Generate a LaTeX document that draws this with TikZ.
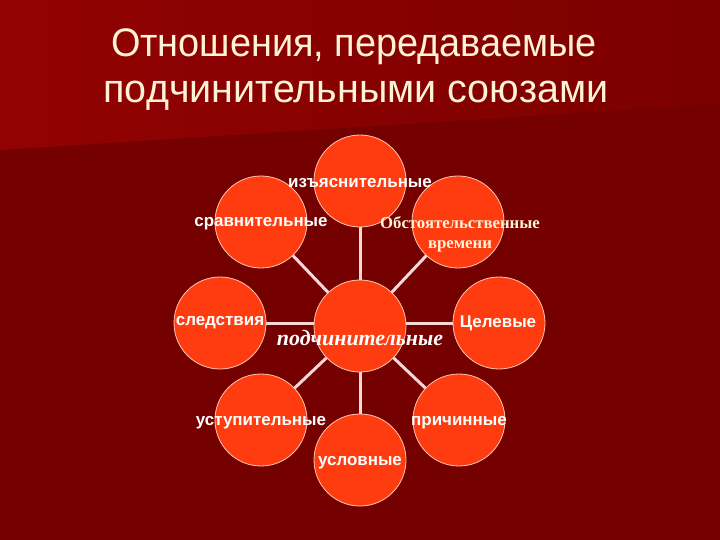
\documentclass[tikz,border=0pt]{standalone}
\usepackage{fontspec}
\setmainfont{Liberation Serif}
\newfontfamily\arialf{Liberation Sans}
\newfontfamily\titlef[FakeStretch=0.95]{Liberation Sans}
\newfontfamily\titlefb[FakeStretch=0.99]{Liberation Sans}
\definecolor{bgbase}{RGB}{116,0,0}
\definecolor{bandl}{RGB}{146,2,2}
\definecolor{bandr}{RGB}{124,0,0}
\definecolor{cream}{RGB}{255,242,214}
\definecolor{disc}{RGB}{255,60,15}
\definecolor{rim}{RGB}{255,200,180}
\definecolor{link}{RGB}{245,215,215}
\tikzset{
  disc/.style={circle,fill=disc,draw=rim,line width=0.8bp,minimum size=92bp,inner sep=0pt},
  link/.style={draw=link,line width=3bp},
  sanslab/.style={text=white,font=\arialf\bfseries\fontsize{17}{19}\selectfont,inner sep=0pt},
  seriflab/.style={text=cream,font=\bfseries\fontsize{16.8}{20}\selectfont,inner sep=0pt,align=center},
  titletext/.style={text=cream,inner sep=0pt}
}
\begin{document}
\begin{tikzpicture}[x=1bp,y=-1bp]
\useasboundingbox (0,0) rectangle (720,540);
\fill[bgbase] (0,0) rectangle (720,540);
\shade[left color=bandl,right color=bandr] (0,0) -- (720,0) -- (720,104) -- (0,150) -- cycle;
\node[titletext,font=\titlef\fontsize{40}{46}\selectfont,anchor=base] (t1) at (354,57) {Отношения, передаваемые};
\node[titletext,font=\titlefb\fontsize{40}{46}\selectfont,anchor=base] (t2) at (356,103) {подчинительными союзами};
\node[disc] (top) at (360,181) {};
\node[disc] (ul) at (261,222) {};
\node[disc] (ur) at (458,222) {};
\node[disc] (l) at (220,323) {};
\node[disc] (c) at (360,326) {};
\node[disc] (r) at (499,323) {};
\node[disc] (dl) at (261,420) {};
\node[disc] (dr) at (459,420) {};
\node[disc] (b) at (360,460) {};
\draw[link] (c) -- (top);
\draw[link] (c) -- (ul);
\draw[link] (c) -- (ur);
\draw[link] (l.east) -- (l.east -| c.west);
\draw[link] (r.west) -- (r.west -| c.east);
\draw[link] (c) -- (dl);
\draw[link] (c) -- (dr);
\draw[link] (c) -- (b);
\node[sanslab] (ltop) at (360,183) {изъяснительные};
\node[sanslab] (lul) at (261,224) {сравнительные};
\node[seriflab] (lur) at (460,234) {Обстоятельственные\\времени};
\node[sanslab] (ll) at (220,323) {следствия};
\node[sanslab] (lr) at (498,323) {Целевые};
\node[text=white,font=\bfseries\itshape\fontsize{22}{26}\selectfont,inner sep=0pt] (lc) at (360,338) {подчинительные};
\node[sanslab] (ldl) at (261,423) {уступительные};
\node[sanslab] (ldr) at (459,423) {причинные};
\node[sanslab] (lb) at (360,463) {условные};
\end{tikzpicture}
\end{document}
